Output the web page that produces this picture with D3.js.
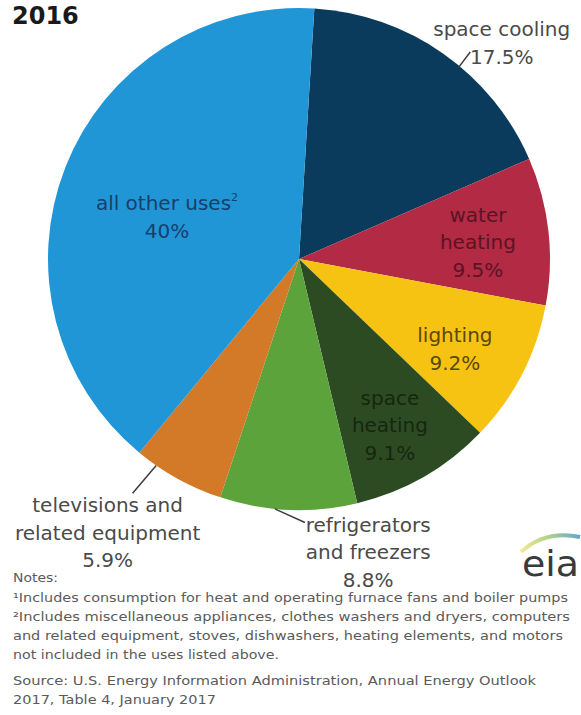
<!DOCTYPE html>
<html>
<head>
<meta charset="utf-8">
<script src="https://cdn.jsdelivr.net/npm/d3@7"></script>
<style>
  html, body { margin: 0; padding: 0; background: #fff; }
  svg { display: block; }
  text { font-family: "DejaVu Sans", "Liberation Sans", sans-serif; }
</style>
</head>
<body>
<div id="chart"></div>
<script>
// residential electricity end uses, 2016 (EIA pie)

const W = 581, H = 715;

// data, clockwise from 12 o'clock
const categories = ['space cooling', 'water heating', 'lighting', 'space heating',
  'refrigerators and freezers', 'televisions and related equipment', 'all other uses'];
const shares = [17.5, 9.5, 9.2, 9.1, 8.8, 5.9, 40];
const labelLines = [
  ['space cooling'], ['water', 'heating'], ['lighting'], ['space', 'heating'],
  ['refrigerators', 'and freezers'], ['televisions and', 'related equipment'], ['all other uses']
];
const noteLines = [
  'Notes:',
  '¹Includes consumption for heat and operating furnace fans and boiler pumps',
  '²Includes miscellaneous appliances, clothes washers and dryers, computers',
  'and related equipment, stoves, dishwashers, heating elements, and motors',
  'not included in the uses listed above.'
];
const sourceLines = [
  'Source: U.S. Energy Information Administration, Annual Energy Outlook',
  '2017, Table 4, January 2017'
];

// styling
const sliceColors = ['#0b3b5c', '#b22a43', '#f7c313', '#2c4b23', '#5ca33c', '#d27a28', '#2196d6'];
const labelInk = ['#4a4a4a', '#5b1424', '#5a4807', '#17260f', '#4a4a4a', '#4a4a4a', '#173f6c'];

const cx = 299, cy = 259, R = 251;
const startOffset = 3.5 * Math.PI / 180;   // pie is turned a touch clockwise

// label anchor relative to slice mid angle: turn (deg), k (radius factor)
const labelPos = [
  { turn: 8.2, k: 1.18 }, { turn: 1.0, k: 0.716 }, { turn: 2.7, k: 0.717 },
  { turn: 1.1, k: 0.754 }, { turn: -15.7, k: 1.2 }, { turn: 6.1, k: 1.33 },
  { turn: -3.85, k: 0.552 }
];
// leader lines for the outside labels
const leaders = {
  0: [[4.8, 0.99], [4.6, 1.07]],
  4: [[3.1, 1.0], [-3.7, 1.05]],
  5: [[5.8, 1.0], [6.5, 1.145]]
};

const svg = d3.select('#chart').append('svg')
  .attr('width', W).attr('height', H)
  .attr('viewBox', `0 0 ${W} ${H}`);

svg.append('rect').attr('width', W).attr('height', H).attr('fill', '#fff');

// title
svg.append('text')
  .attr('x', 12).attr('y', 24)
  .attr('font-size', 24).attr('font-weight', 'bold')
  .attr('fill', '#1a1a1a')
  .text('2016');

const pie = d3.pie().sort(null).value(d => d)
  .startAngle(startOffset).endAngle(startOffset + 2 * Math.PI);
const arcs = pie(shares);

const arc = d3.arc().innerRadius(0).outerRadius(R);

const g = svg.append('g').attr('transform', `translate(${cx},${cy})`);

g.selectAll('path.slice')
  .data(arcs)
  .enter().append('path')
  .attr('class', 'slice')
  .attr('d', arc)
  .attr('fill', (d, i) => sliceColors[i]);

// polar point helper via d3.arc centroid
const deg = Math.PI / 180;
function polar(angle, radius) {
  return d3.arc().innerRadius(radius).outerRadius(radius)
    .startAngle(angle).endAngle(angle).centroid();
}

// leader lines
Object.entries(leaders).forEach(([i, pts]) => {
  const a = arcs[+i];
  const mid = (a.startAngle + a.endAngle) / 2;
  const line = d3.line();
  g.append('path')
    .attr('d', line(pts.map(([t, k]) => polar(mid + t * deg, R * k))))
    .attr('fill', 'none')
    .attr('stroke', '#3d3d3d')
    .attr('stroke-width', 1.5);
});

// labels
const lineGap = 27.5;
arcs.forEach((a, i) => {
  const mid = (a.startAngle + a.endAngle) / 2;
  const p = polar(mid + labelPos[i].turn * deg, R * labelPos[i].k);
  const lines = labelLines[i].concat([shares[i] + '%']);
  const t = g.append('text')
    .attr('text-anchor', 'middle')
    .attr('font-size', 20)
    .attr('fill', labelInk[i]);
  lines.forEach((s, j) => {
    t.append('tspan')
      .attr('x', p[0])
      .attr('y', p[1] + (j - (lines.length - 1) / 2) * lineGap + 7)
      .text(s);
    if (i === 6 && j === 0) {
      t.append('tspan').attr('font-size', 11).attr('dy', -9).text('2');
    }
  });
});

// eia logo
const logo = svg.append('g');
const swoosh = svg.append('defs').append('linearGradient')
  .attr('id', 'swoosh').attr('x1', '0%').attr('x2', '100%');
swoosh.append('stop').attr('offset', '0%').attr('stop-color', '#f4e27a');
swoosh.append('stop').attr('offset', '45%').attr('stop-color', '#9cc96b');
swoosh.append('stop').attr('offset', '100%').attr('stop-color', '#3d8fc4');
logo.append('path')
  .attr('d', 'M521,552 Q545,530 580,537')
  .attr('fill', 'none')
  .attr('stroke', 'url(#swoosh)')
  .attr('stroke-width', 4)
  .attr('opacity', 0.8);
logo.append('text')
  .attr('x', 522).attr('y', 576)
  .attr('font-family', '"Liberation Serif", "DejaVu Serif", serif')
  .attr('font-size', 36)
  .attr('textLength', 57).attr('lengthAdjust', 'spacingAndGlyphs')
  .attr('fill', '#3a3a3a')
  .text('eia');

// notes and source
const notesLayout = [
  { y: 582, w: 45 }, { y: 602, w: 555 }, { y: 621, w: 557 },
  { y: 640, w: 550 }, { y: 659, w: 266 }
];
const sourceLayout = [{ y: 685, w: 523 }, { y: 704, w: 203 }];

function footLines(lines, layout) {
  svg.selectAll(null)
    .data(lines)
    .enter().append('text')
    .attr('x', 13)
    .attr('y', (d, i) => layout[i].y)
    .attr('textLength', (d, i) => layout[i].w)
    .attr('lengthAdjust', 'spacingAndGlyphs')
    .attr('font-size', 12.5)
    .attr('fill', '#5a5a5a')
    .text(d => d);
}
footLines(noteLines, notesLayout);
footLines(sourceLines, sourceLayout);
</script>
</body>
</html>
